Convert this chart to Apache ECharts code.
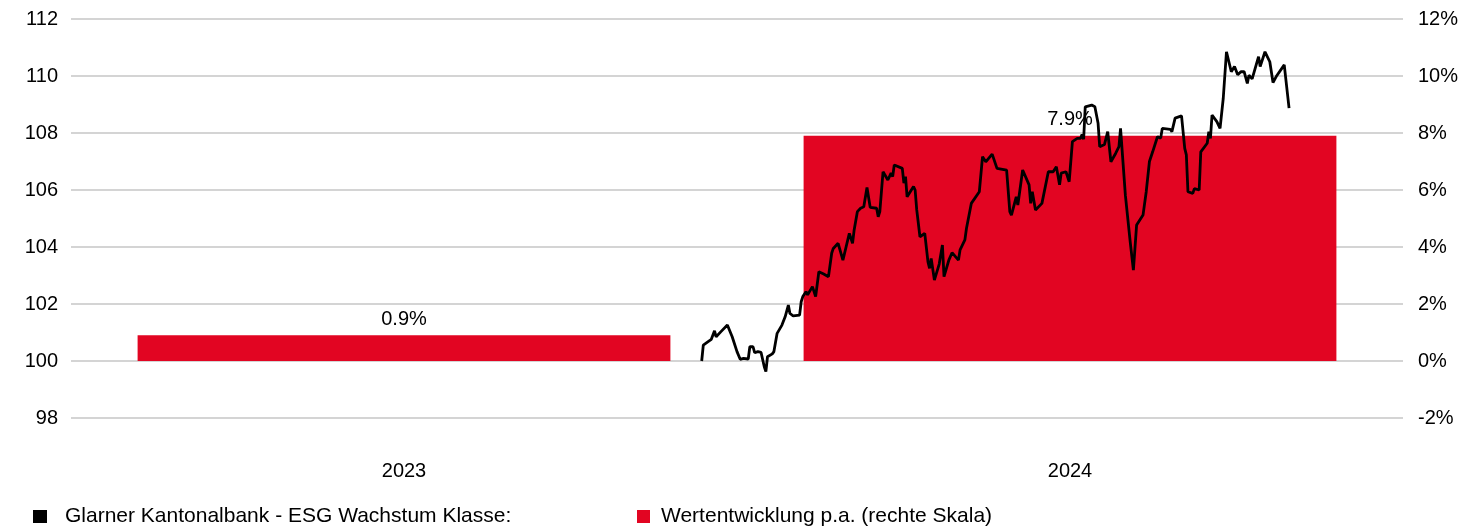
<!DOCTYPE html>
<html>
<head>
<meta charset="utf-8">
<script src="https://cdn.jsdelivr.net/npm/echarts@6/dist/echarts.min.js"></script>
<style>
html,body{margin:0;padding:0;background:#fff;}
#chart{width:1476px;height:532px;}
</style>
</head>
<body>
<div id="chart"></div>
<script>
// Bar data (right scale, % p.a.)
const years = ['2023', '2024'];
const yearlyPerf = [0.9, 7.9];

// Line data: days since start of fund series, indexed value
const lineDays = [0,1,4,6,8,9,12,16,19,22,24,26,29,30,32,33,35,37,39,40,41,44,45,47,48,50,52,54,55,57,61,62,63,65,66,69,71,73,76,79,81,82,85,88,89,90,92,94,95,97,99,101,103,105,109,110,111,113,116,118,119,120,125,126,127,128,132,133,134,136,139,141,142,143,145,148,150,151,154,156,160,161,164,165,168,173,175,177,181,184,190,192,193,196,197,200,204,205,206,208,212,216,219,221,223,224,227,229,231,234,236,237,238,239,243,245,247,248,251,253,255,258,260,261,264,267,269,271,275,277,279,281,284,286,287,292,293,295,299,301,302,303,306,307,308,310,311,315,316,317,318,321,323,325,327,330,332,334,336,338,340,341,343,347,348,351,354,356,358,363,366];
const lineValues = [100.00,100.56,100.68,100.76,101.06,100.85,101.03,101.26,100.85,100.33,100.06,100.09,100.07,100.50,100.50,100.29,100.33,100.30,99.80,99.63,100.15,100.25,100.33,100.97,100.95,101.26,101.55,101.96,101.67,101.58,101.61,102.08,102.26,102.43,102.32,102.61,102.26,103.13,103.05,102.96,103.78,103.95,104.13,103.54,103.52,104.01,104.48,104.13,104.60,105.24,105.36,105.41,106.09,105.39,105.36,105.06,105.24,106.64,106.35,106.59,106.47,106.88,106.76,106.24,106.47,105.76,106.12,106.00,105.30,104.36,104.48,103.48,103.25,103.60,102.84,103.40,104.07,102.96,103.54,103.80,103.54,103.90,104.25,104.66,105.53,105.94,107.17,106.99,107.26,106.76,106.70,105.24,105.12,105.76,105.47,106.70,106.18,105.53,105.94,105.30,105.53,106.64,106.64,106.82,106.18,106.59,106.64,106.29,107.70,107.81,107.81,107.95,107.78,108.92,108.98,108.92,108.34,107.52,107.60,108.05,106.99,107.29,107.52,108.16,105.82,104.19,103.19,104.77,105.12,105.94,107.00,107.34,107.87,107.82,108.16,108.13,108.05,108.52,108.60,107.46,107.23,105.94,105.88,106.05,106.12,106.00,107.34,107.64,108.05,107.81,108.63,108.40,108.16,109.22,110.85,110.15,110.33,110.04,110.15,110.15,109.74,110.03,109.90,110.68,110.33,110.85,110.50,109.77,109.98,110.39,108.87];

// Axis ticks
const leftTicks = {min: 98, max: 112, step: 2};
const rightTicks = {min: -2, max: 12, step: 2};
const dayRange = {min: -393, max: 437};

const lineName = 'Glarner Kantonalbank - ESG Wachstum Klasse:';
const barName = 'Wertentwicklung p.a. (rechte Skala)';

const FONT = '"Liberation Sans", Arial, sans-serif';
const FS = 20;
const LFS = 21;

const chart = echarts.init(document.getElementById('chart'), null, {renderer: 'canvas'});
chart.setOption({
  animation: false,
  backgroundColor: '#ffffff',
  textStyle: {fontFamily: FONT, color: '#000'},
  grid: {left: 71, right: 73, top: 19, bottom: 114, containLabel: false},
  legend: [
    {
      data: [{name: lineName, icon: 'rect'}],
      left: 33, top: 506, padding: 0,
      itemWidth: 14, itemHeight: 13,
      textStyle: {fontFamily: FONT, fontSize: LFS, color: '#000', padding: [0, 0, 0, 13]},
      selectedMode: false
    },
    {
      data: [{name: barName, icon: 'rect'}],
      left: 637, top: 506, padding: 0,
      itemWidth: 13, itemHeight: 13,
      textStyle: {fontFamily: FONT, fontSize: LFS, color: '#000', padding: [0, 0, 0, 6]},
      selectedMode: false
    }
  ],
  xAxis: [
    {
      type: 'category',
      data: years,
      axisLine: {show: false},
      axisTick: {show: false},
      axisLabel: {fontFamily: FONT, fontSize: FS, color: '#000', margin: 43},
      splitLine: {show: false}
    },
    {
      type: 'value',
      min: dayRange.min, max: dayRange.max,
      show: false,
      splitLine: {show: false}
    }
  ],
  yAxis: [
    {
      type: 'value',
      min: leftTicks.min, max: leftTicks.max, interval: leftTicks.step,
      axisLine: {show: false},
      axisTick: {show: false},
      axisLabel: {fontFamily: FONT, fontSize: FS, color: '#000', margin: 13},
      splitLine: {show: true, lineStyle: {color: '#d4d4d4', width: 2}}
    },
    {
      type: 'value',
      min: rightTicks.min, max: rightTicks.max, interval: rightTicks.step,
      position: 'right',
      axisLine: {show: false},
      axisTick: {show: false},
      axisLabel: {fontFamily: FONT, fontSize: FS, color: '#000', margin: 15, formatter: '{value}%'},
      splitLine: {show: false}
    }
  ],
  series: [
    {
      name: barName,
      type: 'bar',
      xAxisIndex: 0,
      yAxisIndex: 1,
      data: yearlyPerf,
      barWidth: '80%',
      itemStyle: {color: '#e20522'},
      label: {
        show: true, position: 'top', distance: 6,
        fontFamily: FONT, fontSize: FS, color: '#000',
        formatter: p => p.value.toFixed(1) + '%'
      },
      z: 2
    },
    {
      name: lineName,
      type: 'line',
      xAxisIndex: 1,
      yAxisIndex: 0,
      data: lineDays.map((d, i) => [d, lineValues[i]]),
      showSymbol: false,
      symbol: 'none',
      lineStyle: {color: '#000', width: 2.8},
      itemStyle: {color: '#000'},
      z: 3
    }
  ]
});
</script>
</body>
</html>
